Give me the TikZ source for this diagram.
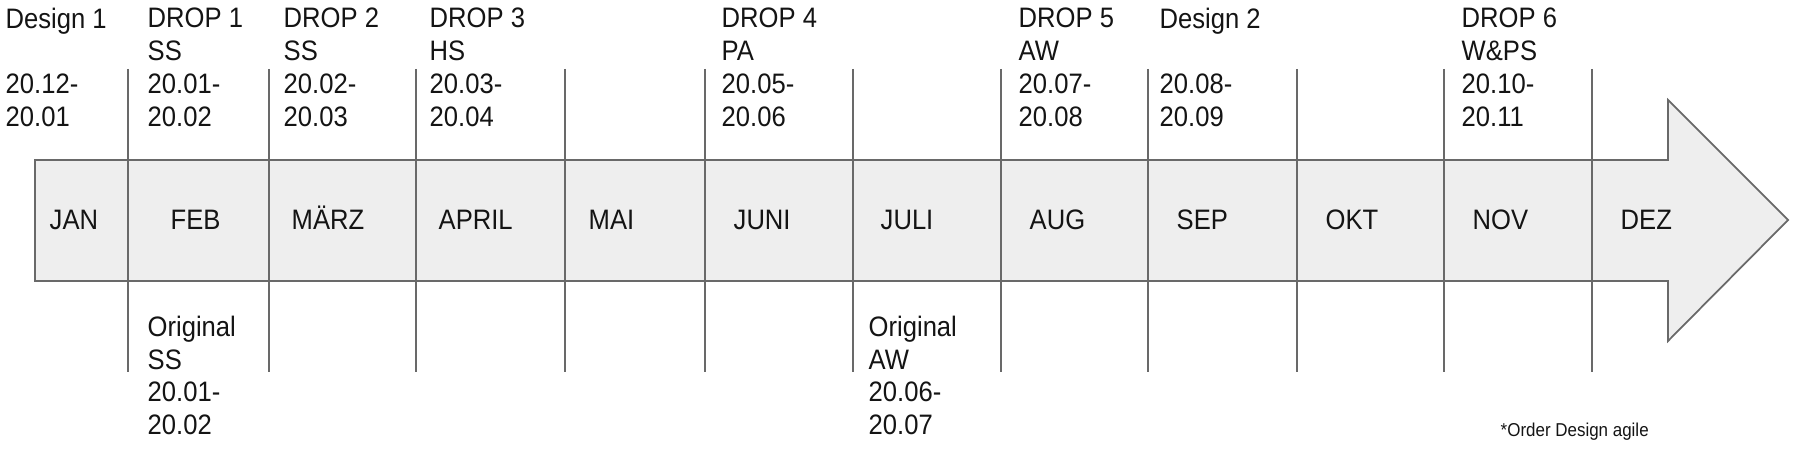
\documentclass[tikz,border=0pt]{standalone}
\usepackage{fontspec}
\setmainfont{Liberation Sans}[FakeStretch=0.91]
\usepackage{tikz}
\usepackage{xcolor}

\begin{document}
\begin{tikzpicture}[x=0.01cm,y=-0.01cm]
    % Define colors
    \definecolor{barfill}{RGB}{238,238,238}
    \definecolor{barline}{RGB}{105,105,105}
    \definecolor{ink}{RGB}{20,20,20}
    \tikzset{
        monthlabel/.style={anchor=base west, inner sep=0pt, text=ink, font=\fontsize{8}{9.36}\selectfont},
        droplabel/.style={anchor=north west, inner sep=0pt, align=left, text=ink, font=\fontsize{8}{9.36}\selectfont},
        notelabel/.style={anchor=base west, inner sep=0pt, text=ink, font=\fontsize{5.3}{6}\selectfont}
    }
    \useasboundingbox (0,0) rectangle (1800,452);

    % Draw arrow
    \fill[barfill] (35,160) -- (1668,160) -- (1668,100) -- (1788,220) -- (1668,341) -- (1668,281) -- (35,281) -- cycle;
    \draw[barline, line width=0.5pt, line join=miter] (35,160) -- (1668,160) -- (1668,100) -- (1788,220) -- (1668,341) -- (1668,281) -- (35,281) -- cycle;

    % Month separators
    \foreach \x in {128,269,416,565,705,853,1001,1148,1297,1444,1592} {
        \draw[barline, line width=0.5pt] (\x,69) -- (\x,372);
    }

    % Month labels
    \foreach \x/\month [count=\i] in {49/JAN,170/FEB,291/M\"ARZ,438/APRIL,588/MAI,733/JUNI,880/JULI,1029/AUG,1176/SEP,1325/OKT,1472/NOV,1620/DEZ} {
        \node[monthlabel] (m\i) at (\x,230) {\month};
    }

    % Drops above the arrow
    \node[droplabel] (design1) at (5,7) {Design 1\\[9.36pt]20.12-\\20.01};
    \node[droplabel] (drop1) at (147,7) {DROP 1\\SS\\20.01-\\20.02};
    \node[droplabel] (drop2) at (283,7) {DROP 2\\SS\\20.02-\\20.03};
    \node[droplabel] (drop3) at (429,7) {DROP 3\\HS\\20.03-\\20.04};
    \node[droplabel] (drop4) at (721,7) {DROP 4\\PA\\20.05-\\20.06};
    \node[droplabel] (drop5) at (1018,7) {DROP 5\\AW\\20.07-\\20.08};
    \node[droplabel] (design2) at (1159,7) {Design 2\\[9.36pt]20.08-\\20.09};
    \node[droplabel] (drop6) at (1461,7) {DROP 6\\W\&PS\\20.10-\\20.11};

    % Originals below the arrow
    \node[droplabel] (origss) at (147,315) {Original\\SS\\20.01-\\20.02};
    \node[droplabel] (origaw) at (868,315) {Original\\AW\\20.06-\\20.07};

    % Note
    \node[notelabel] (note) at (1500,437) {*Order Design agile};
\end{tikzpicture}
\end{document}
